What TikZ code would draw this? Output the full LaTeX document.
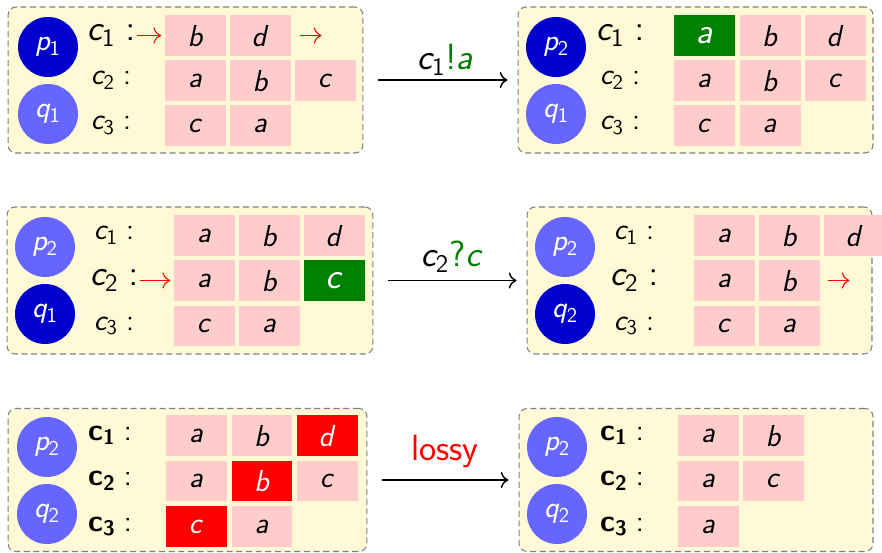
\documentclass[tikz,border=0pt]{standalone}
\usetikzlibrary{arrows.meta}
\definecolor{paper}{RGB}{255,249,214}
% sans serif math letters and digits
\SetSymbolFont{operators}{normal}{OT1}{cmss}{m}{n}
\SetSymbolFont{letters}{normal}{OT1}{cmss}{m}{sl}
\SetMathAlphabet{\mathbf}{normal}{OT1}{cmss}{bx}{n}

\begin{document}
\begin{tikzpicture}[x=0.02cm,y=-0.02cm,
  conf/.style={draw=gray,dash pattern=on 3.5pt off 2pt,line width=0.6pt,fill=paper,rounded corners=0.16cm},
  proc/.style={circle,minimum size=1.2cm,inner sep=0pt,text=white,font=\fontsize{17.28}{20}\selectfont},
  pcur/.style={proc,fill=blue!80!black},
  pidle/.style={proc,fill=blue!60},
  chan/.style={inner sep=0pt,font=\fontsize{17.28}{20}\selectfont},
  act/.style={chan,font=\fontsize{20.74}{24}\selectfont},
  msg/.style={minimum width=1.22cm,minimum height=0.82cm,inner sep=0pt,fill=red!20,font=\fontsize{17.28}{20}\selectfont},
  sent/.style={msg,fill=green!50!black,text=white,font=\fontsize{20.74}{24}\selectfont},
  lost/.style={msg,fill=red,text=white},
  trans/.style={-{To[scale=1.3]},line width=0.8pt,shorten <=0.3cm,shorten >=0.2cm},
  ptr/.style={-{To[scale=1.5]},red,line width=0.6pt,shorten <=1pt,shorten >=2pt}]
  \useasboundingbox (0,0) rectangle (882,553);

  % first row: send c1!a
  \node[conf,minimum width=7.1cm,minimum height=2.92cm] (s1) at (185.5,80) {};
  \node[pcur] (P1) at (48,47) {$p_1$};
  \node[pidle] (Q1) at (48,114) {$q_1$};
  \node[act] (k1-1) at (111,35.5) {$c_1:$};
  \node[chan] (k1-2) at (111,80.5) {$c_2:$};
  \node[chan] (k1-3) at (111,125.5) {$c_3:$};
  \foreach \t/\s [count=\i from 0] in {b/msg,d/msg}
    \node[\s] (c1-1-\i) at (195.5+65*\i,35.5) {$\t$};
  \foreach \t/\s [count=\i from 0] in {a/msg,b/msg,c/msg}
    \node[\s] (c1-2-\i) at (195.5+65*\i,80.5) {$\t$};
  \foreach \t/\s [count=\i from 0] in {c/msg,a/msg}
    \node[\s] (c1-3-\i) at (195.5+65*\i,125.5) {$\t$};
  \draw[ptr] (k1-1.east) -- (k1-1.east -| c1-1-0.west);
  \coordinate (e1) at (325,35.5);
  \draw[ptr,shorten <=0.18cm] (c1-1-1.east) -- (e1);

  \node[conf,minimum width=7.1cm,minimum height=2.92cm] (s2) at (695.5,80) {};
  \node[pcur] (P2) at (556,47) {$p_2$};
  \node[pidle] (Q2) at (556,114) {$q_1$};
  \node[act] (k2-1) at (620,35.5) {$c_1:$};
  \node[chan] (k2-2) at (620,80.5) {$c_2:$};
  \node[chan] (k2-3) at (620,125.5) {$c_3:$};
  \foreach \t/\s [count=\i from 0] in {a/sent,b/msg,d/msg}
    \node[\s] (c2-1-\i) at (704.5+65.5*\i,35.5) {$\t$};
  \foreach \t/\s [count=\i from 0] in {a/msg,b/msg,c/msg}
    \node[\s] (c2-2-\i) at (704.5+65.5*\i,80.5) {$\t$};
  \foreach \t/\s [count=\i from 0] in {c/msg,a/msg}
    \node[\s] (c2-3-\i) at (704.5+65.5*\i,125.5) {$\t$};

  \draw[trans] (s1) -- (s2);
  \node[act] (t1) at (445,60) {$c_1{\color{green!50!black}!a}$};

  % second row: receive c2?c
  \node[conf,minimum width=7.32cm,minimum height=2.94cm] (s3) at (190,280.5) {};
  \node[pidle] (P3) at (45,247) {$p_2$};
  \node[pcur] (Q3) at (45,314) {$q_1$};
  \node[chan] (k3-1) at (114,235.5) {$c_1:$};
  \node[act] (k3-2) at (114,280.5) {$c_2:$};
  \node[chan] (k3-3) at (114,326) {$c_3:$};
  \foreach \t/\s [count=\i from 0] in {a/msg,b/msg,d/msg}
    \node[\s] (c3-1-\i) at (204.5+65*\i,235.5) {$\t$};
  \foreach \t/\s [count=\i from 0] in {a/msg,b/msg,c/sent}
    \node[\s] (c3-2-\i) at (204.5+65*\i,280.5) {$\t$};
  \foreach \t/\s [count=\i from 0] in {c/msg,a/msg}
    \node[\s] (c3-3-\i) at (204.5+65*\i,326) {$\t$};
  \draw[ptr] (k3-2.east) -- (k3-2.east -| c3-2-0.west);

  \node[conf,minimum width=6.9cm,minimum height=2.94cm] (s4) at (699.5,280.5) {};
  \node[pidle] (P4) at (565,247) {$p_2$};
  \node[pcur] (Q4) at (565,314) {$q_2$};
  \node[chan] (k4-1) at (634,235.5) {$c_1:$};
  \node[act] (k4-2) at (634,280.5) {$c_2:$};
  \node[chan] (k4-3) at (634,326) {$c_3:$};
  \foreach \t/\s [count=\i from 0] in {a/msg,b/msg,d/msg}
    \node[\s] (c4-1-\i) at (724.5+65*\i,235.5) {$\t$};
  \foreach \t/\s [count=\i from 0] in {a/msg,b/msg}
    \node[\s] (c4-2-\i) at (724.5+65*\i,280.5) {$\t$};
  \foreach \t/\s [count=\i from 0] in {c/msg,a/msg}
    \node[\s] (c4-3-\i) at (724.5+65*\i,326) {$\t$};
  \coordinate (e4) at (853,280.5);
  \draw[ptr,shorten <=0.16cm] (c4-2-1.east) -- (e4);

  \draw[trans] (s3) -- (s4);
  \node[act] (t2) at (452,257) {$c_2{\color{green!50!black}?c}$};

  % third row: lossy step
  \node[conf,minimum width=7.18cm,minimum height=2.86cm] (s5) at (187.5,480) {};
  \node[pidle] (P5) at (47,447) {$p_2$};
  \node[pidle] (Q5) at (47,514) {$q_2$};
  \node[chan] (k5-1) at (110,435.5) {$\mathbf{c_1}:$};
  \node[chan] (k5-2) at (110,481) {$\mathbf{c_2}:$};
  \node[chan] (k5-3) at (110,526.5) {$\mathbf{c_3}:$};
  \foreach \t/\s [count=\i from 0] in {a/msg,b/msg,d/lost}
    \node[\s] (c5-1-\i) at (196.5+65.5*\i,435.5) {$\t$};
  \foreach \t/\s [count=\i from 0] in {a/msg,b/lost,c/msg}
    \node[\s] (c5-2-\i) at (196.5+65.5*\i,481) {$\t$};
  \foreach \t/\s [count=\i from 0] in {c/lost,a/msg}
    \node[\s] (c5-3-\i) at (196.5+65.5*\i,526.5) {$\t$};

  \node[conf,minimum width=7.08cm,minimum height=2.86cm] (s6) at (696,480) {};
  \node[pidle] (P6) at (557,447) {$p_2$};
  \node[pidle] (Q6) at (557,514) {$q_2$};
  \node[chan] (k6-1) at (622,435.5) {$\mathbf{c_1}:$};
  \node[chan] (k6-2) at (622,481) {$\mathbf{c_2}:$};
  \node[chan] (k6-3) at (622,526.5) {$\mathbf{c_3}:$};
  \foreach \t/\s [count=\i from 0] in {a/msg,b/msg}
    \node[\s] (c6-1-\i) at (708.5+65*\i,435.5) {$\t$};
  \foreach \t/\s [count=\i from 0] in {a/msg,c/msg}
    \node[\s] (c6-2-\i) at (708.5+65*\i,481) {$\t$};
  \node[msg] (c6-3-0) at (708.5,526.5) {$a$};

  \draw[trans] (s5) -- (s6);
  \node[act,text=red] (t3) at (445,452) {\sffamily lossy};
\end{tikzpicture}
\end{document}
